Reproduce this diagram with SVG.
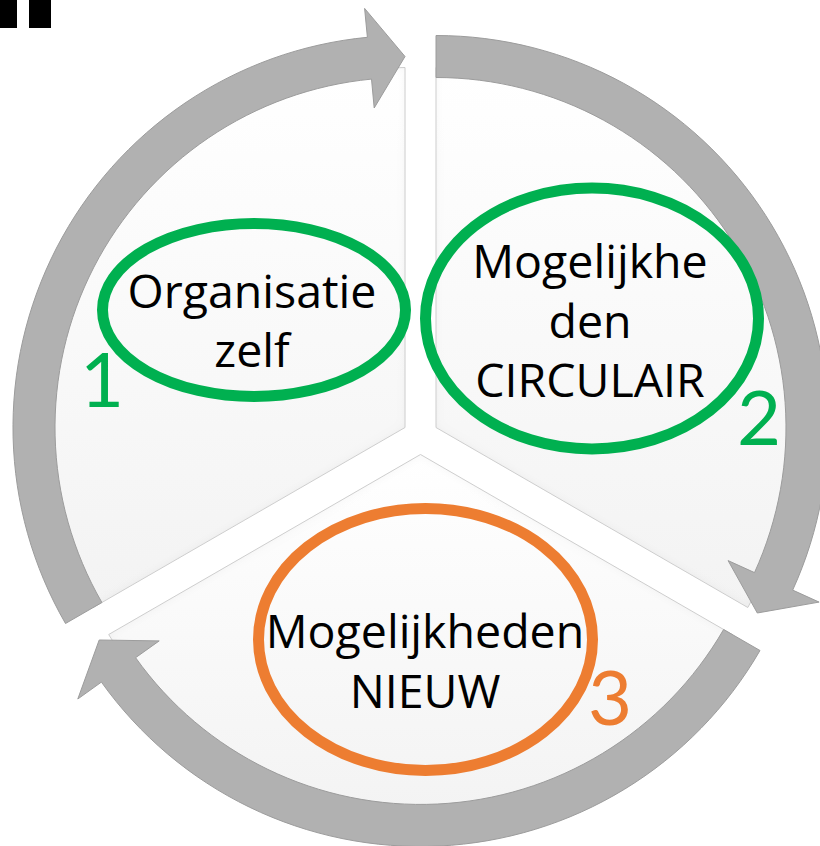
<svg xmlns="http://www.w3.org/2000/svg" width="820" height="846" viewBox="0 0 820 846">
  <defs>
    <linearGradient id="segFill" x1="0" y1="0" x2="0" y2="1">
      <stop offset="0" stop-color="#ffffff"/>
      <stop offset="1" stop-color="#f3f3f3"/>
    </linearGradient>
    <filter id="bevel" x="-5%" y="-5%" width="110%" height="110%">
      <feGaussianBlur in="SourceAlpha" stdDeviation="5" result="blur"/>
      <feComposite in="SourceAlpha" in2="blur" operator="out" result="edge"/>
      <feFlood flood-color="#000000" flood-opacity="0.09" result="col"/>
      <feComposite in="col" in2="edge" operator="in" result="shade"/>
      <feMerge>
        <feMergeNode in="SourceGraphic"/>
        <feMergeNode in="shade"/>
      </feMerge>
    </filter>
  </defs>
  <style>
    .seg { fill: url(#segFill); stroke: #d2d2d2; stroke-width: 1; filter: url(#bevel); }
    .arrow { fill: #b1b1b1; stroke: #9c9c9c; stroke-width: 1; stroke-linejoin: miter; }
    .ell { fill: none; stroke-width: 11; }
    .green { stroke: #00b050; }
    .orange { stroke: #ed7d31; }
    .lbl { font-family: "Open Sans", "Liberation Sans", sans-serif; font-size: 46.5px; fill: #000000; text-anchor: middle; }
    .num { font-family: Lato, "Liberation Sans", sans-serif; font-size: 76px; text-anchor: middle; }
  </style>

  <rect x="0" y="0" width="820" height="846" fill="#ffffff"/>
  <g id="mark">
    <rect x="0" y="0" width="17" height="28" fill="#000000"/>
    <rect x="29" y="0" width="22" height="28" fill="#000000"/>
  </g>

  <g id="segment-1">
    <path class="seg" d="M 405 427.5 L 93.2 607.5 A 360 360 0 0 1 405 67.5 Z"/>
  </g>
  <g id="segment-2">
    <path class="seg" d="M 436 427.5 L 436 67.5 A 360 360 0 0 1 747.8 607.5 Z"/>
  </g>
  <g id="segment-3">
    <path class="seg" d="M 420.5 454.5 L 732.3 634.5 A 360 360 0 0 1 108.7 634.5 Z"/>
  </g>

  <g id="connectors">
    <path class="arrow" d="M 65.5 623.5 A 392 392 0 0 1 367.4 37.3 L 364.6 8.4 L 405 56.5 L 374.2 108 L 371.5 79.1 A 350 350 0 0 0 101.9 602.5 Z"/>
    <path class="arrow" d="M 436 35.5 A 392 392 0 0 1 792.7 590.1 L 819.1 602.1 L 757.3 613 L 728.1 560.6 L 754.5 572.6 A 350 350 0 0 0 436 77.5 Z"/>
    <path class="arrow" d="M 760 650.5 A 392 392 0 0 1 101.4 682.1 L 77.8 699 L 99.2 640 L 159.2 640.9 L 135.6 657.7 A 350 350 0 0 0 723.6 629.5 Z"/>
  </g>

  <g id="node-1">
    <ellipse class="ell green" cx="254" cy="310" rx="151.5" ry="86.5"/>
    <text class="lbl" x="252" y="308">Organisatie</text>
    <text class="lbl" x="252" y="367">zelf</text>
    <text class="num" x="102" y="407" fill="#00b050">1</text>
  </g>
  <g id="node-2">
    <ellipse class="ell green" cx="592" cy="318.5" rx="166.5" ry="130.5"/>
    <text class="lbl" x="590" y="278">Mogelijkhe</text>
    <text class="lbl" x="590" y="338">den</text>
    <text class="lbl" x="590" y="397">CIRCULAIR</text>
    <text class="num" x="759" y="445" fill="#00b050">2</text>
  </g>
  <g id="node-3">
    <ellipse class="ell orange" cx="425.5" cy="639.5" rx="167" ry="131"/>
    <text class="lbl" x="425" y="648">Mogelijkheden</text>
    <text class="lbl" x="425" y="708">NIEUW</text>
    <text class="num" x="610" y="725" fill="#ed7d31">3</text>
  </g>
</svg>
